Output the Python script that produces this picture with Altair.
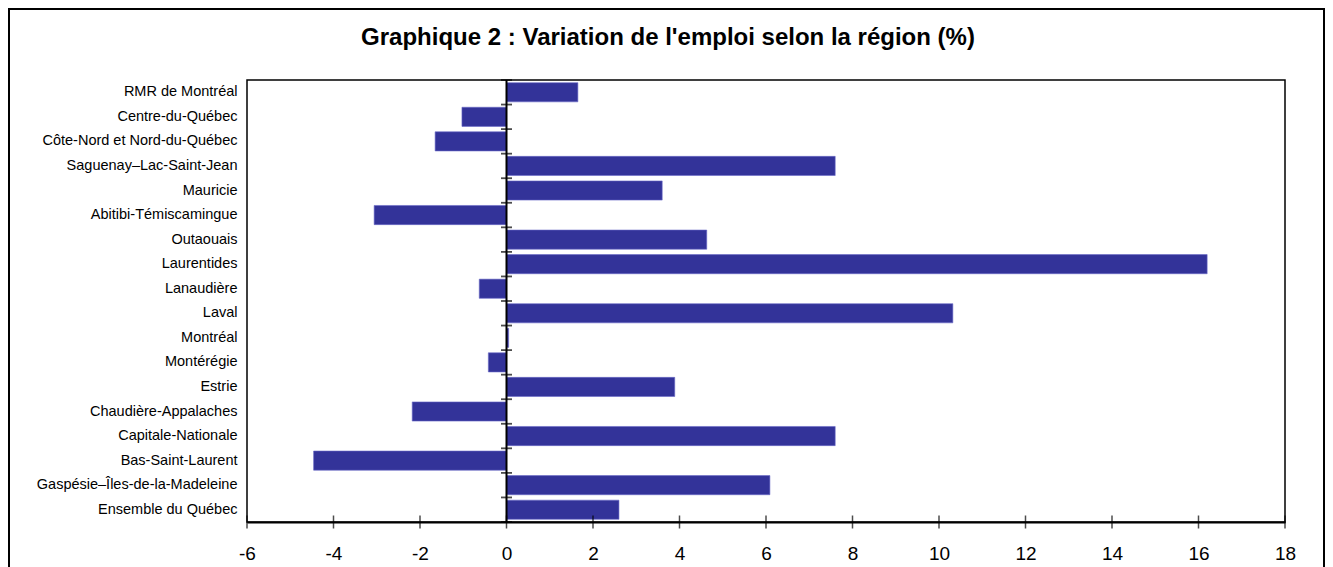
import altair as alt
import pandas as pd

regions = [
    "RMR de Montréal",
    "Centre-du-Québec",
    "Côte-Nord et Nord-du-Québec",
    "Saguenay–Lac-Saint-Jean",
    "Mauricie",
    "Abitibi-Témiscamingue",
    "Outaouais",
    "Laurentides",
    "Lanaudière",
    "Laval",
    "Montréal",
    "Montérégie",
    "Estrie",
    "Chaudière-Appalaches",
    "Capitale-Nationale",
    "Bas-Saint-Laurent",
    "Gaspésie–Îles-de-la-Madeleine",
    "Ensemble du Québec",
]
values = [1.65, -1.03, -1.65, 7.6, 3.6, -3.06, 4.63, 16.2, -0.63, 10.32,
          0.05, -0.42, 3.89, -2.18, 7.6, -4.46, 6.09, 2.6]
x_ticks = [-6, -4, -2, 0, 2, 4, 6, 8, 10, 12, 14, 16, 18]
title_text = "Graphique 2 : Variation de l'emploi selon la région (%)"

FONT = "Liberation Sans"
W, H = 1038, 442

df = pd.DataFrame({"region": regions, "value": values})
bounds_df = pd.DataFrame({"b": list(range(len(regions) + 1))})
ticks_df = pd.DataFrame({"t": x_ticks})
zero_df = pd.DataFrame({"z": [0]})
title_df = pd.DataFrame({"title": [title_text]})

xscale = alt.Scale(domain=[x_ticks[0], x_ticks[-1]], nice=False, zero=False)

bars = alt.Chart(df).mark_bar(
    color="#333399", stroke="#6a6ac8", strokeWidth=0.6
).encode(
    x=alt.X("value:Q", scale=xscale,
            axis=alt.Axis(values=x_ticks, title=None, grid=False, ticks=False,
                          labelExpr="datum.value < 0 ? '-' + abs(datum.value) : '' + datum.value",
                          labelFontSize=19, labelFont=FONT, labelColor="black",
                          labelPadding=22, labelFlush=False,
                          domainColor="black", domainWidth=2)),
    y=alt.Y("region:N", sort=regions,
            scale=alt.Scale(paddingInner=0.22, paddingOuter=0.11),
            axis=alt.Axis(title=None, ticks=False, domain=False,
                          labelFontSize=14.5, labelFont=FONT, labelColor="black",
                          labelPadding=10, labelLimit=400)),
)

zero_line = alt.Chart(zero_df).mark_rule(color="black", strokeWidth=2).encode(
    x=alt.X("z:Q", scale=xscale)
)

y_ticks = alt.Chart(bounds_df).mark_tick(
    orient="horizontal", color="black", thickness=1.8, size=11
).encode(
    x=alt.datum(0),
    y=alt.Y("b:Q", scale=alt.Scale(domain=[0, len(regions)], nice=False, zero=False,
                                   reverse=True), axis=None),
)

x_tick_marks = alt.Chart(ticks_df).mark_tick(
    orient="vertical", color="black", thickness=1.5, size=13
).encode(
    x=alt.X("t:Q", scale=xscale),
    y=alt.value(H),
)

frame = alt.Chart(zero_df).mark_rect(
    filled=False, stroke="black", strokeWidth=2
).encode(
    x=alt.value(-238), x2=alt.value(1077), y=alt.value(-71), y2=alt.value(620)
)

title = alt.Chart(title_df).mark_text(
    font=FONT, fontSize=24, fontWeight="bold", color="black",
    align="center", baseline="alphabetic"
).encode(
    text="title:N", x=alt.value(421), y=alt.value(-35)
)

chart = alt.layer(bars, zero_line, x_tick_marks, y_ticks, frame, title).resolve_scale(
    y="independent"
).properties(
    width=W, height=H,
    autosize=alt.AutoSizeParams(type="none"),
    padding={"left": 239, "top": 72, "right": 40, "bottom": 45},
).configure_view(stroke="black", strokeWidth=1.5)

chart.save("out.html", embed_options={"renderer": "svg", "actions": False})
